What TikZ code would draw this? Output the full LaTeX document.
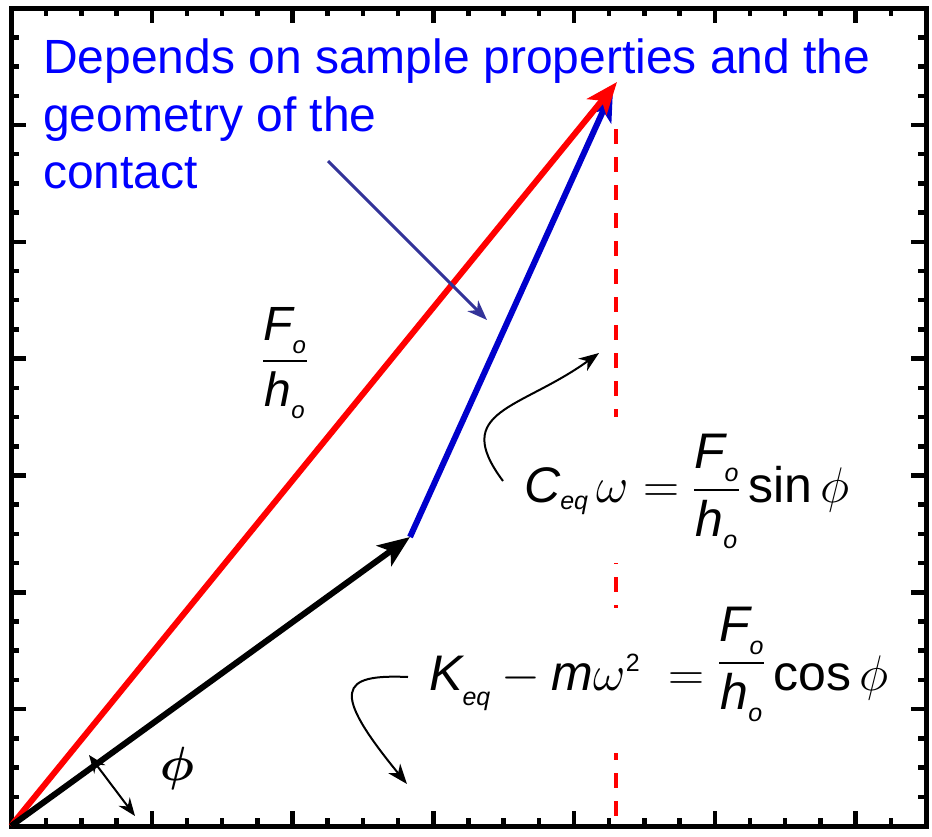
\RequirePackage{fix-cm}
\documentclass[tikz,border=0pt]{standalone}
\usepackage{amsmath, amssymb}
\usepackage{fontspec}
\setmainfont{Liberation Sans}
\usetikzlibrary{arrows.meta}
\definecolor{vecRed}{RGB}{255, 0, 0}
\definecolor{vecBlue}{RGB}{0, 0, 204}
\definecolor{noteBlue}{RGB}{0, 0, 255}
\definecolor{pointerNavy}{RGB}{51, 51, 153}
\newcommand{\vsf}[1]{\text{\itshape #1}}
\newcommand{\ssub}[2][0pt]{_{\scriptscriptstyle\text{\itshape\raisebox{#1}{#2}}}}
\newcommand{\Fho}{\dfrac{\vsf{F}\ssub[-6pt]{o}}{\vsf{h}\ssub[-5pt]{o}}}

\begin{document}
\begin{tikzpicture}[x=1pt, y=-1pt,
    bigarrow/.style={line width=6pt, -{Stealth[length=32pt, width=25pt, inset=8pt]}},
    thinarrow/.style={line width=2pt, -{Stealth[length=20pt, width=15pt, inset=6pt]}},
    eqtext/.style={font=\fontsize{50}{60}\selectfont, fill=white, inner sep=0pt, anchor=base west},
    notetext/.style={font=\fontsize{48}{57.5}\selectfont, text=noteBlue, align=left, inner sep=0pt}]
        \useasboundingbox (0,0) rectangle (932,836);
        % frame with inward ticks
        \draw[line width=5pt] (11,8) rectangle (926,826);
        \foreach \k in {1,...,25} {
          \pgfmathsetmacro{\tx}{11+35.19*\k}
          \pgfmathsetmacro{\tl}{mod(\k,4)==0 ? 15 : 8}
          \draw[line width=4.5pt] (\tx,826) -- ++(0,-\tl);  % bottom
          \draw[line width=4.5pt] (\tx,8) -- ++(0,\tl);     % top
        }
        \foreach \k in {1,...,27} {
          \pgfmathsetmacro{\ty}{826-29.21*\k}
          \pgfmathsetmacro{\tl}{mod(\k,4)==0 ? 15 : 8}
          \draw[line width=4.5pt] (11,\ty) -- ++(\tl,0);    % left
          \draw[line width=4.5pt] (926,\ty) -- ++(-\tl,0);  % right
        }
        \coordinate (O) at (11,826);                       % origin
        \coordinate (redTip) at (617,82);
        \coordinate (blkTip) at (410,537);
        \coordinate (bluTip) at (613,89);
        \coordinate (dashTop) at (616,129);
        \coordinate (dashBot) at (616,820);
        % vertical projection (dashed)
        \draw[vecRed, line width=4pt, dash pattern=on 15pt off 13pt] (dashTop) -- (dashBot);
        \draw[vecBlue, bigarrow] (blkTip) -- (bluTip);       % damping part
        \draw[vecRed, bigarrow] (O) -- (redTip);             % F/h
        \draw[bigarrow] (O) -- (blkTip);                     % stiffness part
        % Labels
        \node[notetext, anchor=north west] (note) at (43,39) {Depends on sample properties and the\\geometry of the\\contact};
        \node[font=\fontsize{48}{58}\selectfont] (ratio) at (285,363) {$\Fho$};
        \node[eqtext, text height=85pt, text depth=61pt] (eqC) at (524,502)
          {$\vsf{C}\ssub{eq}\,\omega=\Fho\,\text{sin}\,\phi$};
        \node[eqtext, text height=82pt, text depth=63pt] (eqK) at (429,690)
          {$\vsf{K}\ssub[-8pt]{eq}-\vsf{m}\omega^{\scriptscriptstyle\text{2}}\;=\raisebox{15pt}{$\Fho$}\,\text{cos}\,\phi$};
        \node[font=\fontsize{48}{58}\selectfont] (phiLbl) at (177,768) {$\boldsymbol{\phi}$};
        % pointers
        \coordinate (noteS) at (328,161);
        \coordinate (noteE) at (487,320);
        \draw[pointerNavy, line width=3pt, -{Stealth[length=20pt, width=15pt, inset=6pt]}] (noteS) -- (noteE);
        \coordinate (cS) at (503,481);
        \coordinate (cE) at (599,353);
        \draw[thinarrow] (cS) .. controls (450,410) and (520,410) .. (cE);
        \coordinate (kS) at (408,677);
        \coordinate (kE) at (407,784);
        \draw[thinarrow] (kS) .. controls (340,674) and (330,690) .. (kE);
        \coordinate (angA) at (89,755);
        \coordinate (angB) at (135,816);
        \draw[line width=2pt, {Stealth[length=18pt, width=14pt, inset=6pt]}-{Stealth[length=18pt, width=14pt, inset=6pt]}] (angA) -- (angB);
      \end{tikzpicture}
\end{document}
